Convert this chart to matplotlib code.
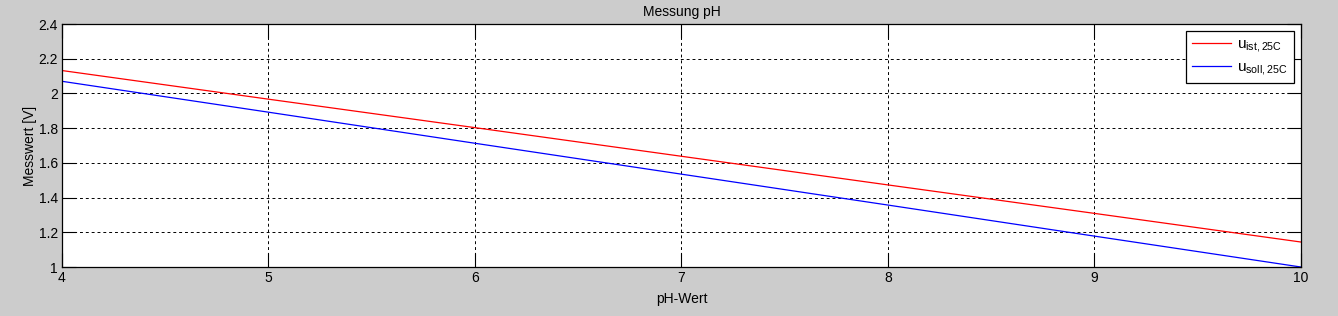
import numpy as np
import matplotlib
matplotlib.use('Agg')
import matplotlib.pyplot as plt

plt.rcParams['font.family'] = ['Liberation Sans', 'DejaVu Sans']
plt.rcParams['mathtext.fontset'] = 'custom'
plt.rcParams['mathtext.rm'] = 'Liberation Sans'
plt.rcParams['mathtext.it'] = 'Liberation Sans'

ph = [4, 5, 6, 7, 8, 9, 10]
u_ist = [2.132, 1.967, 1.803, 1.638, 1.473, 1.309, 1.144]
u_soll = [2.070, 1.892, 1.713, 1.535, 1.357, 1.178, 1.000]

x_ticks = [4, 5, 6, 7, 8, 9, 10]
y_ticks = [1, 1.2, 1.4, 1.6, 1.8, 2, 2.2, 2.4]
y_labels = ['1', '1.2', '1.4', '1.6', '1.8', '2', '2.2', '2.4']

bg = '#cccccc'
fig = plt.figure(figsize=(13.38, 3.16), dpi=100, facecolor=bg)
ax = fig.add_axes([0.0463, 0.155, 0.926, 0.769])

ax.plot(ph, u_ist, color='red', lw=0.9, label=r'u$_{\mathrm{ist,25C}}$')
ax.plot(ph, u_soll, color='blue', lw=0.9, label=r'u$_{\mathrm{soll,25C}}$')

ax.set_xlim(4, 10)
ax.set_ylim(1, 2.4)
ax.set_xticks(x_ticks)
ax.set_yticks(y_ticks)
ax.set_yticklabels(y_labels)
ax.tick_params(direction='in', length=10, width=0.8, top=True, right=True,
               labelsize=10, colors='black', pad=3)
ax.grid(True, color='black', linestyle=(0, (3, 3)), linewidth=0.7)
for s in ax.spines.values():
    s.set_linewidth(0.9)

ax.set_title('Messung pH', fontsize=10, pad=6)
ax.set_xlabel('pH-Wert', fontsize=10, labelpad=5)
ax.set_ylabel('Messwert [V]', fontsize=10, labelpad=1)

leg = ax.legend(loc='upper right', fontsize=11, fancybox=False, framealpha=1,
                edgecolor='black', handlelength=2.6, handletextpad=0.4,
                borderaxespad=0.45, labelspacing=0.4, borderpad=0.4)
leg.get_frame().set_linewidth(0.9)

fig.savefig('out.png', dpi=100, facecolor=bg)
